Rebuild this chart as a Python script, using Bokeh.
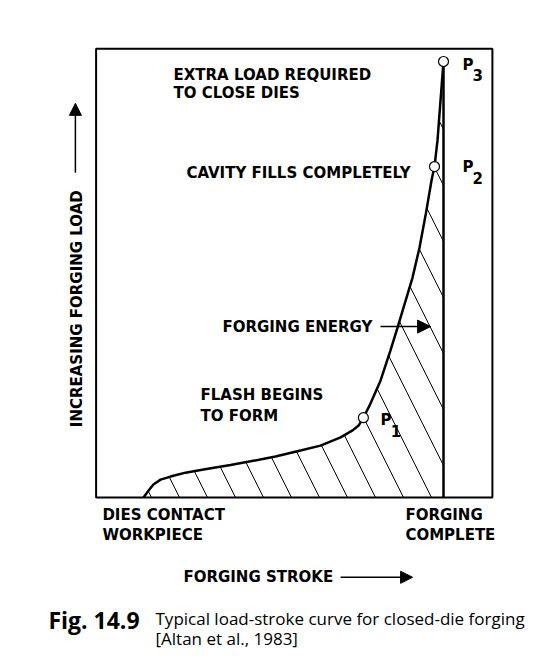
from bokeh.plotting import figure
from bokeh.models import Range1d, Arrow, NormalHead
from bokeh.core.properties import value
from bokeh.embed import file_html
from bokeh.resources import INLINE

# Load-stroke curve (stroke 0 = dies contact, 100 = forging complete; load 0..100 = P3)
stroke = [0, 1.7, 3.3, 5.7, 9, 14, 20, 29, 35.7, 44, 51.3, 59, 65.7, 69.7, 71.7, 73.3,
          75.7, 79, 82.3, 84.7, 86.7, 89.7, 92, 94.3, 96, 97, 98, 99, 100]
load = [0, 1.6, 3.0, 4.1, 4.8, 5.7, 6.4, 7.45, 8.3, 9.4, 10.6, 11.9, 13.8, 15.4, 16.5, 18.3,
        21.6, 26.8, 33.7, 39, 43.6, 50.5, 57.3, 65.8, 72.7, 75.9, 81.9, 91, 100]
pt_stroke = [73.3, 97, 100]
pt_load = [18.3, 75.9, 100]
pt_subs = ["1", "2", "3"]

BOLD = value("DejaVu Sans")
CAP = value("Open Sans")

p = figure(width=533, height=651, output_backend="svg", toolbar_location=None,
           x_range=Range1d(-47.667, 130.0), y_range=Range1d(-35.32, 113.99),
           x_axis_location=None, y_axis_location=None, min_border=0)
p.grid.visible = False
p.outline_line_color = None
p.background_fill_color = "white"

# frame box
p.quad(left=[-15.8], right=[116.3], bottom=[0], top=[102.9], fill_color=None,
       line_color="black", line_width=2)

# hatched energy area
hx = stroke + [stroke[-1]]
hy = load + [0]
p.patch(hx, hy, fill_color=None, line_color=None, hatch_pattern="\\",
        hatch_scale=56, hatch_weight=1, hatch_color="black")

# forging complete vertical line
p.segment(x0=[stroke[-1]], y0=[0], x1=[stroke[-1]], y1=[load[-1]], line_color="black", line_width=2.5)
# curve
p.line(stroke, load, line_color="black", line_width=2.5)
# points
p.scatter(pt_stroke, pt_load, size=10, fill_color="white", line_color="black", line_width=1.2)

def txt(x, y, s, size="15px", align="left", font=BOLD, style="bold", angle=0, baseline="middle"):
    p.text(x=[x], y=[y], text=[s], text_font=font, text_font_size=size,
           text_font_style=style, text_align=align, text_baseline=baseline,
           text_color="black", angle=angle)

# point labels
txt(79, 17.7, "P", size="15px")
txt(82.4, 15.2, "1", size="15px")
txt(106.3, 75.7, "P", size="15px")
txt(109.7, 73.2, "2", size="15px")
txt(106.3, 99.1, "P", size="15px")
txt(109.7, 96.8, "3", size="15px")

txt(10, 96.8, "EXTRA LOAD REQUIRED")
txt(10, 92.7, "TO CLOSE DIES")
txt(89, 74.5, "CAVITY FILLS COMPLETELY", align="right")
txt(26.3, 39.2, "FORGING ENERGY")
txt(19, 23.4, "FLASH BEGINS")
txt(19, 18.8, "TO FORM")
txt(-13.7, -4.1, "DIES CONTACT")
txt(-13.7, -8.7, "WORKPIECE")
txt(87.3, -4.1, "FORGING")
txt(87.3, -8.7, "COMPLETE")
txt(13.3, -18.3, "FORGING STROKE")
txt(-22.3, 43.3, "INCREASING FORGING LOAD", align="center", angle=1.5708)

# arrows
p.add_layout(Arrow(x_start=79, y_start=39.2, x_end=95.7, y_end=39.2, line_width=1.5,
                   end=NormalHead(size=13, fill_color="black", line_color="black")))
p.add_layout(Arrow(x_start=65.7, y_start=-18.3, x_end=89.7, y_end=-18.3, line_width=1.5,
                   end=NormalHead(size=12, fill_color="black", line_color="black")))
p.add_layout(Arrow(x_start=-22.7, y_start=74.5, x_end=-22.7, y_end=90.4, line_width=1.5,
                   end=NormalHead(size=12, fill_color="black", line_color="black")))

# caption
txt(-31.7, -28.0, "Fig. 14.9", size="23px", font=CAP, style="bold")
txt(4, -27.8, "Typical load-stroke curve for closed-die forging", size="17px", font=CAP, style="normal")
txt(4, -32.3, "[Altan et al., 1983]", size="17px", font=CAP, style="normal")

open("out.html", "w").write(file_html(p, INLINE))
